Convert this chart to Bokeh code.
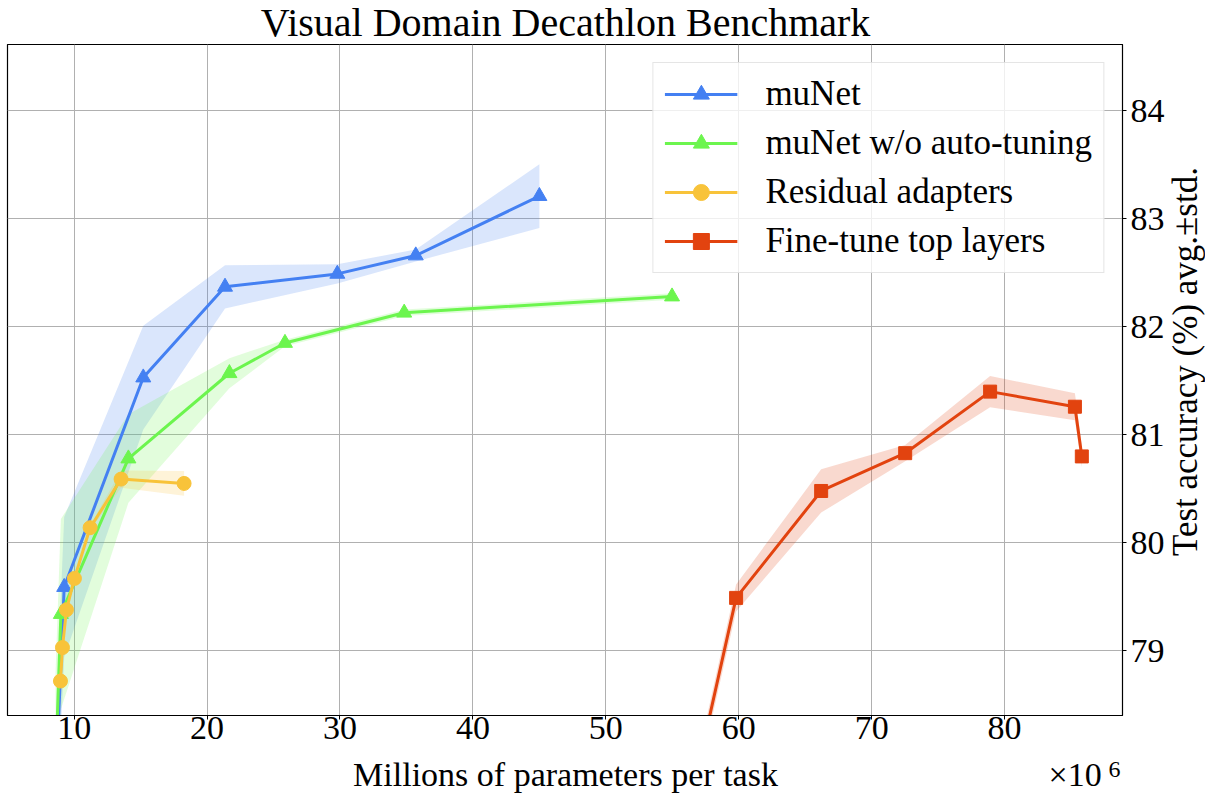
import math
from bokeh.plotting import figure
from bokeh.models import Label, FixedTicker, Range1d
from bokeh.layouts import column, row
from bokeh.embed import file_html
from bokeh.resources import INLINE

# ---------------- data (millions of params, accuracy mean, std) ----------------
munet_x = [8.70, 9.25, 15.20, 21.35, 29.80, 35.70, 45.00]
munet_y = [78.00, 79.59, 81.53, 82.37, 82.49, 82.66, 83.21]
munet_s = [0.60, 0.65, 0.48, 0.20, 0.09, 0.055, 0.295]

noauto_x = [8.60, 9.00, 14.08, 21.68, 25.86, 34.83, 54.98]
noauto_y = [77.90, 79.34, 80.78, 81.57, 81.85, 82.13, 82.28]
noauto_s = [0.90, 0.88, 0.41, 0.14, 0.03, 0.03, 0.03]

resad_x = [8.97, 9.12, 9.42, 10.02, 11.20, 13.53, 18.27]
resad_y = [78.72, 79.03, 79.38, 79.67, 80.14, 80.59, 80.55]
resad_s = [0.02, 0.02, 0.02, 0.02, 0.02, 0.08, 0.115]

ft_x = [56.00, 59.80, 66.20, 72.52, 78.91, 85.29, 85.81]
ft_y = [77.40, 79.49, 80.48, 80.83, 81.40, 81.26, 80.80]
ft_s = [0.10, 0.125, 0.20, 0.075, 0.145, 0.125, 0.10]

x_ticks = [10, 20, 30, 40, 50, 60, 70, 80]
y_ticks = [79, 80, 81, 82, 83, 84]

series_names = ["muNet", "muNet w/o auto-tuning", "Residual adapters", "Fine-tune top layers"]
colors = ["#4480F2", "#6CF54E", "#F8C33A", "#E2430F"]
markers = ["triangle", "triangle", "circle", "square"]
msizes = [15, 15, 14, 13]

title_text = "Visual Domain Decathlon Benchmark"
xlabel_text = "Millions of parameters per task"
ylabel_text = "Test accuracy (%) avg.\u00b1std."
offset_text = "\u00d710"
offset_exp = "6"

FONT = "Liberation Serif"

# ---------------- layout (page pixels) ----------------
TOTAL_W, TOTAL_H = 1205, 795
XMIN, XMAX = 4.985, 88.87
YMIN, YMAX = 78.401, 84.614
FL, FT = 7, 44            # frame left / top on the page
FW, FH = 1116, 671        # frame size
RB, BB = 44, 39           # right / bottom panels of the main figure
MAIN_W, MAIN_H = FL + FW + RB, FH + BB
FCX = FL + FW / 2         # frame centre x
MID = 0.32                # baseline offset of a "middle"-anchored text, in em


def text_fig(w, h):
    f = figure(width=w, height=h, output_backend="svg", toolbar_location=None,
               x_range=Range1d(0, w), y_range=Range1d(0, h),
               x_axis_location=None, y_axis_location=None,
               min_border_left=0, min_border_right=0, min_border_top=0, min_border_bottom=0)
    f.outline_line_color = None
    f.grid.visible = False
    f.background_fill_color = "white"
    f.border_fill_color = "white"
    return f


def add_text(f, x, y, text, size, align="left", angle=0.0):
    f.add_layout(Label(x=x, y=y, text=text, text_align=align, angle=angle,
                       text_baseline="middle", text_font=FONT,
                       text_font_size=f"{size}px", text_color="black"))


# ---------------- main plot ----------------
p = figure(width=MAIN_W, height=MAIN_H, output_backend="svg", toolbar_location=None,
           x_range=Range1d(XMIN, XMAX), y_range=Range1d(YMIN, YMAX),
           y_axis_location="right", min_border_left=FL, min_border_top=0,
           min_border_right=RB, min_border_bottom=BB)

p.background_fill_color = "white"
p.border_fill_color = "white"
p.outline_line_color = "black"
p.outline_line_width = 1.2

for ax in (p.xaxis[0], p.yaxis[0]):
    ax.major_label_text_font = FONT
    ax.major_label_text_font_size = "34px"
    ax.major_label_text_color = "black"
    ax.minor_tick_line_color = None
    ax.major_tick_line_color = "black"
    ax.major_tick_out = 4
    ax.major_tick_in = 0
    ax.axis_line_color = "black"
p.xaxis[0].ticker = FixedTicker(ticks=x_ticks)
p.yaxis[0].ticker = FixedTicker(ticks=y_ticks)
p.xaxis[0].major_label_standoff = -3
p.yaxis[0].major_label_standoff = 4

p.grid.grid_line_color = "#b0b0b0"
p.grid.grid_line_width = 1
p.xgrid.ticker = FixedTicker(ticks=x_ticks)
p.ygrid.ticker = FixedTicker(ticks=y_ticks)

all_series = [(munet_x, munet_y, munet_s), (noauto_x, noauto_y, noauto_s),
              (resad_x, resad_y, resad_s), (ft_x, ft_y, ft_s)]

for (xs, ys, ss), c in zip(all_series, colors):
    lo = [y - s for y, s in zip(ys, ss)]
    hi = [y + s for y, s in zip(ys, ss)]
    p.varea(x=xs, y1=lo, y2=hi, fill_color=c, fill_alpha=0.2)

for (xs, ys, ss), c, m, ms, name in zip(all_series, colors, markers, msizes, series_names):
    p.line(xs, ys, line_color=c, line_width=3, legend_label=name)
    p.scatter(xs, ys, marker=m, size=ms, fill_color=c, line_color=c, legend_label=name)

lg = p.legend[0]
lg.location = "top_right"
lg.margin = 18
lg.padding = 11
lg.spacing = 9
lg.glyph_width = 73
lg.glyph_height = 40
lg.label_height = 40
lg.label_standoff = 28
lg.label_text_font = FONT
lg.label_text_font_size = "35px"
lg.label_text_color = "black"
lg.background_fill_color = "white"
lg.background_fill_alpha = 0.8
lg.border_line_color = "#cccccc"
lg.border_line_width = 1

# ---------------- text strips around the plot ----------------
# title strip: page y 0..FT
title_fig = text_fig(TOTAL_W, FT)
add_text(title_fig, FCX, FT - (35 - MID * 40), title_text, 40, "center")

# y-label strip: page x MAIN_W..TOTAL_W, page y FT..FT+MAIN_H
right_w = TOTAL_W - MAIN_W
right_fig = text_fig(right_w, MAIN_H)
add_text(right_fig, (1196 - MID * 35) - MAIN_W, MAIN_H - (379.5 - FT), ylabel_text, 35,
         "center", math.pi / 2)

# x-label strip: page y FT+MAIN_H..TOTAL_H
bottom_h = TOTAL_H - FT - MAIN_H
bottom_fig = text_fig(TOTAL_W, bottom_h)
add_text(bottom_fig, FCX, TOTAL_H - (784.5 - MID * 34), xlabel_text, 34, "center")
add_text(bottom_fig, 1048, TOTAL_H - (785 - MID * 34), offset_text, 34)
add_text(bottom_fig, 1108, TOTAL_H - (776.5 - MID * 24), offset_exp, 24)

layout = column(title_fig, row(p, right_fig), bottom_fig)

open("out.html", "w").write(file_html(layout, INLINE))
